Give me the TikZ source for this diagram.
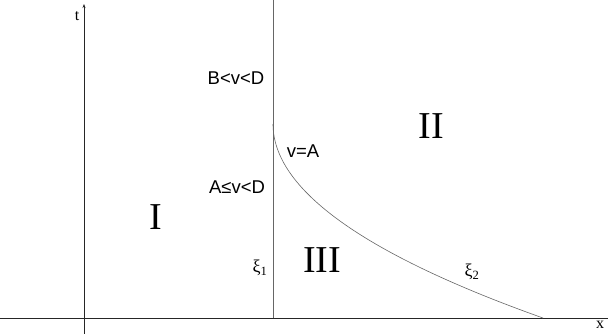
\documentclass[tikz,border=0pt]{standalone}
\usepackage{fontspec}
\setmainfont{Liberation Serif}
\newfontfamily\arialfont{Liberation Sans}
\usepackage{tikz}
\usetikzlibrary{arrows.meta,positioning,calc}

\begin{document}
\begin{tikzpicture}[x=1pt,y=-1pt,
    axisline/.style={black!85, line width=0.8pt},
    frontline/.style={black!60, line width=0.6pt},
    region/.style={font=\fontsize{38}{40}\selectfont, inner sep=0pt},
    speedlbl/.style={font=\arialfont\fontsize{18.5}{20}\selectfont, inner sep=0pt},
    xilbl/.style={font=\fontsize{18}{20}\selectfont, inner sep=0pt},
    axislbl/.style={font=\fontsize{16}{18}\selectfont, inner sep=0pt}]
  \useasboundingbox (0,0) rectangle (608,334);

  % Axes
  \coordinate (xleft) at (0,318);
  \coordinate (xright) at (608,318);
  \coordinate (tbot) at (84,334);
  \coordinate (ttop) at (84,4);
  \draw[axisline] (xleft) -- (xright);
  \draw[axisline, -{Stealth[length=4pt,width=3pt]}] (tbot) -- (ttop);
  \node[axislbl] (tlbl) at (77,16) {t};
  \node[axislbl] (xlbl) at (600,325) {x};

  % Fronts xi_1 and xi_2
  \coordinate (xitop) at (273,0);
  \coordinate (xifoot) at (273,318);
  \coordinate (kink) at (273,124);
  \coordinate (xiend) at (543,318);
  \draw[frontline] (xifoot) -- (xitop);
  \draw[frontline] (kink) .. controls (273,189) and (363,254) .. (xiend);

  % Regions
  \node[region] (regI) at (156,217) {I};
  \node[region] (regII) at (431,126) {II};
  \node[region] (regIII) at (322,260) {III};

  % Labels
  \node[speedlbl] (upper) at (236,78) {B<v<D};
  \node[speedlbl] (lower) at (237,187) {A≤v<D};
  \node[speedlbl] (equal) at (303,151) {v=A};
  \node[xilbl] (xi1) at (260,268) {ξ\textsubscript{1}};
  \node[xilbl] (xi2) at (472,272) {ξ\textsubscript{2}};
\end{tikzpicture}
\end{document}
